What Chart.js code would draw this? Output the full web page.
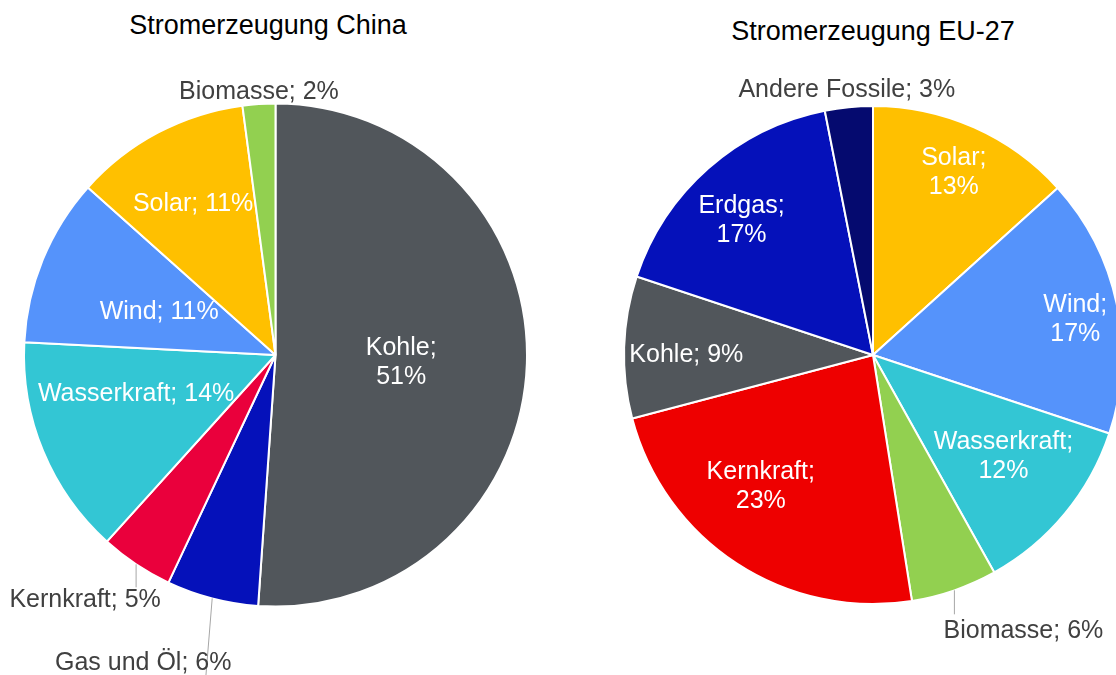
<!DOCTYPE html>
<html>
<head>
<meta charset="utf-8">
<script src="https://cdn.jsdelivr.net/npm/chart.js"></script>
<style>
  body { margin: 0; width: 1116px; height: 675px; overflow: hidden; background: #fff; position: relative; }
  .title { position: absolute; font-family: "Liberation Sans", Arial, sans-serif; font-size: 27px; line-height: 32px; color: #000; white-space: nowrap; transform: translateX(-50%); }
  canvas { position: absolute; top: 0; }
</style>
</head>
<body>
<div class="title" id="title-china" style="left:268px; top:9px;">Stromerzeugung China</div>
<div class="title" id="title-eu" style="left:873px; top:15px;">Stromerzeugung EU-27</div>
<canvas id="china-chart" width="551" height="675" style="left:0;"></canvas>
<canvas id="eu-chart" width="560" height="675" style="left:593px;"></canvas>
<script>
// China data (share of generation, %)
const chinaLabels = ["Kohle", "Gas und Öl", "Kernkraft", "Wasserkraft", "Wind", "Solar", "Biomasse"];
const chinaValues = [51.1, 5.9, 4.7, 14.1, 10.8, 11.3, 2.1];
const chinaColors = ["#51565b", "#0511ba", "#ea003c", "#33c6d4", "#5593fb", "#ffc000", "#92d050"];

// EU-27 data (share of generation, %)
const euLabels = ["Solar", "Wind", "Wasserkraft", "Biomasse", "Kernkraft", "Kohle", "Erdgas", "Andere Fossile"];
const euValues = [13.3, 16.8, 11.8, 5.6, 23.4, 9.2, 16.8, 3.1];
const euColors = ["#ffc000", "#5593fb", "#33c6d4", "#92d050", "#ee0000", "#51565b", "#0511ba", "#050a6f"];

// label placement: inside -> radius fraction + nudge, outside -> leader line + text offset from the edge
const chinaPlace = [
  { f: 0.5, dx: 0, dy: 0, split: true },
  { out: true, line: [-6.5, 80], text: [-69, 62] },
  { out: true, line: [0, 23], text: [-51, 33] },
  { f: 0.6, dx: 0, dy: -22, split: false },
  { f: 0.5, dx: 0, dy: 2, split: false },
  { f: 0.7, dx: 0, dy: 2, split: false },
  { out: true, line: null, text: [0, -15] },
];
const euPlace = [
  { f: 0.8, dx: 0, dy: -3, split: true },
  { f: 0.83, dx: 0, dy: 4, split: true },
  { f: 0.68, dx: 0, dy: -9, split: true },
  { out: true, line: [0, 24], text: [69, 38] },
  { f: 0.7, dx: -17, dy: -17, split: true },
  { f: 0.75, dx: 0, dy: 3, split: false },
  { f: 0.75, dx: -8, dy: 3, split: true },
  { out: true, line: null, text: [-2, -20] },
];

const labelFont = '25px "Liberation Sans", Arial, sans-serif';
const textShift = 3; // canvas "middle" sits a bit high for this font

// Plugin to draw the slice labels
const sliceLabels = {
  id: "sliceLabels",
  afterDatasetsDraw(chart, args, opts) {
    const ctx = chart.ctx;
    const meta = chart.getDatasetMeta(0);
    ctx.save();
    ctx.font = labelFont;
    ctx.textAlign = "center";
    ctx.textBaseline = "middle";
    meta.data.forEach((arc, i) => {
      const p = arc.getProps(["x", "y", "startAngle", "endAngle", "outerRadius"], true);
      const mid = (p.startAngle + p.endAngle) / 2;
      const place = opts.place[i];
      const name = opts.names[i];
      const pct = Math.round(opts.values[i]) + "%";

      if (place.out) {
        const ex = p.x + Math.cos(mid) * p.outerRadius;
        const ey = p.y + Math.sin(mid) * p.outerRadius;
        if (place.line) {
          ctx.strokeStyle = "#a6a6a6";
          ctx.lineWidth = 1;
          ctx.beginPath();
          ctx.moveTo(ex, ey);
          ctx.lineTo(ex + place.line[0], ey + place.line[1]);
          ctx.stroke();
        }
        ctx.fillStyle = "#404040";
        ctx.fillText(name + "; " + pct, ex + place.text[0], ey + place.text[1] + textShift);
      } else {
        const r = p.outerRadius * place.f;
        const lx = p.x + Math.cos(mid) * r + place.dx;
        const ly = p.y + Math.sin(mid) * r + place.dy + textShift;
        ctx.fillStyle = "#ffffff";
        if (place.split) {
          ctx.fillText(name + ";", lx, ly - 14.5);
          ctx.fillText(pct, lx, ly + 14.5);
        } else {
          ctx.fillText(name + "; " + pct, lx, ly);
        }
      }
    });
    ctx.restore();
  },
};

function renderPie(id, labels, values, colors, place, padding) {
  const ctx = document.getElementById(id).getContext("2d");
  new Chart(ctx, {
    type: "pie",
    data: {
      labels: labels,
      datasets: [
        {
          data: values,
          backgroundColor: colors,
          borderColor: "#ffffff",
          borderWidth: 2,
        },
      ],
    },
    options: {
      responsive: false,
      maintainAspectRatio: false,
      animation: false,
      layout: { padding: padding },
      plugins: {
        legend: { display: false },
        tooltip: { enabled: false },
        title: { display: false },
        sliceLabels: { names: labels, values: values, place: place },
      },
    },
    plugins: [sliceLabels],
  });
}

window.onload = function () {
  renderPie("china-chart", chinaLabels, chinaValues, chinaColors, chinaPlace,
    { top: 102.5, bottom: 67.5, left: 23, right: 23 });
  renderPie("eu-chart", euLabels, euValues, euColors, euPlace,
    { top: 105, bottom: 70, left: 30, right: 30 });
};
</script>
</body>
</html>
